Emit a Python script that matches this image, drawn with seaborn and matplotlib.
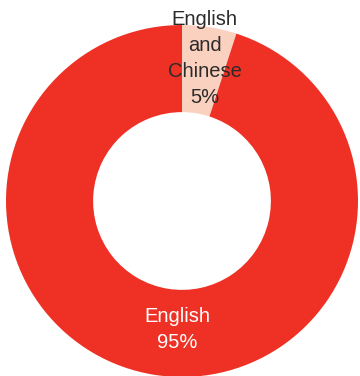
import numpy as np
import matplotlib
matplotlib.use("Agg")
import matplotlib.pyplot as plt
import seaborn as sns

# Language share of content
categories = ["English and Chinese", "English"]
shares = [5, 95]
colors = ["#FAD0BF", "#EE3124"]
label_colors = ["#2B2B2B", "#FFFFFF"]

sns.set_theme(style="white")
plt.rcParams["font.family"] = ["Liberation Sans", "DejaVu Sans"]

fig = plt.figure(figsize=(3.6, 3.76), dpi=100)
ax = fig.add_axes([6 / 360, -1 / 376, 352 / 360, 352 / 376])
ax.set_aspect("equal")

wedges, _ = ax.pie(
    shares,
    colors=colors,
    startangle=90,
    counterclock=False,
    radius=1.0,
    wedgeprops=dict(width=0.495, linewidth=0),
)
ax.set_xlim(-1, 1)
ax.set_ylim(-1, 1)
ax.axis("off")

# Label for the small slice, placed along its mid-angle
w = wedges[0]
mid = np.deg2rad((w.theta1 + w.theta2) / 2)
r = 0.82
ax.text(r * np.cos(mid), r * np.sin(mid),
        f"English\nand\nChinese\n{shares[0]}%",
        ha="center", va="center", color=label_colors[0],
        fontsize=14.5, linespacing=1.45)

# Label for the large slice, near the bottom of the ring
ax.text(-0.025, -0.73, f"{categories[1]}\n{shares[1]}%",
        ha="center", va="center", color=label_colors[1],
        fontsize=14.5, linespacing=1.45)

fig.savefig("out.png", dpi=100)
